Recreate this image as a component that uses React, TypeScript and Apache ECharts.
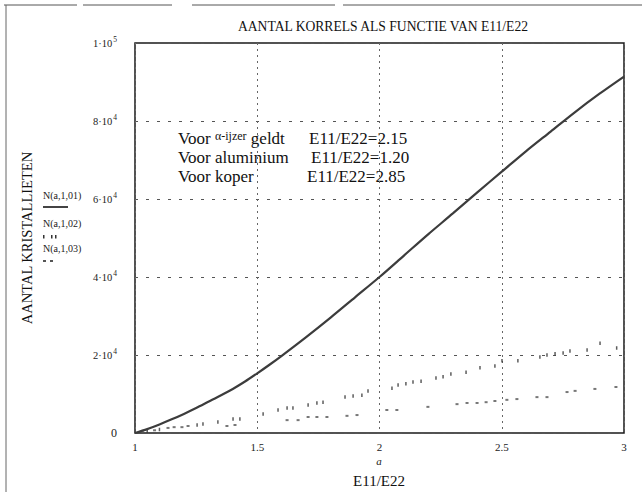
import React, { useEffect, useRef } from "react";
import * as echarts from "echarts";

// ---- data ----
const xMain = [1.0, 1.05, 1.1, 1.15, 1.2, 1.25, 1.3, 1.35, 1.4, 1.45, 1.5, 1.55, 1.6, 1.7, 1.8, 1.9, 2.0, 2.1, 2.2, 2.3, 2.4, 2.5, 2.6, 2.7, 2.8, 2.9, 3.0];
const yMain = [0, 1000, 2200, 3500, 4900, 6400, 8000, 9600, 11300, 13200, 15300, 17500, 19800, 24600, 29600, 34800, 40000, 45500, 51000, 56300, 61700, 67000, 72300, 77300, 82300, 87000, 91400];

const xA2 = [1.05, 1.1, 1.254, 1.278, 1.339, 1.401, 1.429, 1.524, 1.585, 1.622, 1.646, 1.708, 1.744, 1.769, 1.859, 1.892, 1.928, 1.953, 2.051, 2.076, 2.108, 2.137, 2.17, 2.231, 2.26, 2.292, 2.354, 2.411, 2.472, 2.501, 2.566, 2.656, 2.685, 2.718, 2.751, 2.779, 2.849, 2.902, 2.97];
const yA2 = [500, 900, 2050, 2300, 2800, 3600, 3600, 4900, 5900, 6400, 6400, 7200, 7700, 7900, 9200, 9500, 9700, 10800, 11500, 12300, 12600, 13100, 13300, 14100, 14400, 15100, 15600, 16700, 17200, 18500, 18500, 19500, 20000, 20300, 20500, 21000, 21300, 23000, 21800];

const xA3 = [1.03, 1.08, 1.135, 1.16, 1.192, 1.217, 1.376, 1.409, 1.622, 1.667, 1.708, 1.744, 1.785, 1.867, 1.908, 2.03, 2.071, 2.198, 2.317, 2.358, 2.399, 2.436, 2.472, 2.521, 2.562, 2.644, 2.685, 2.767, 2.8, 2.881, 2.967];
const yA3 = [200, 700, 1300, 1500, 1500, 1800, 1800, 2050, 3300, 3300, 4100, 4100, 4100, 4400, 4600, 5900, 5900, 6700, 7400, 7700, 7700, 7900, 8200, 8500, 8700, 9200, 9200, 10500, 10800, 11300, 11800];

const seriesNames = ["N(a,1,01)", "N(a,1,02)", "N(a,1,03)"];
const titleText = "AANTAL KORRELS ALS FUNCTIE VAN E11/E22";
const yName = "AANTAL KRISTALLIETEN";
const xName = "E11/E22";
const notes = [
  { left: "{n|Voor }{g|α-ijzer}{n| geldt}", right: "E11/E22=2.15" },
  { left: "{n|Voor aluminium}", right: "E11/E22=1.20" },
  { left: "{n|Voor koper}", right: "E11/E22=2.85" },
];

const SERIF = "'Liberation Serif', 'DejaVu Serif', 'Times New Roman', serif";

function yLabel(v: number): string {
  if (v === 0) return "0";
  const p = Math.floor(Math.log10(v) + 1e-9);
  const m = Math.round(v / Math.pow(10, p));
  return `{m|${m}·10}{s|${p}}`;
}

export default function App() {
  const ref = useRef<HTMLDivElement>(null);
  useEffect(() => {
    document.body.style.margin = "0";
    const chart = echarts.init(ref.current as HTMLDivElement, null, { renderer: "svg" });
    const noteY = [138, 157, 176];
    const noteRX = [309, 311, 307];
    const graphic: any[] = [
      // outer frame (scanned page border)
      { type: "line", shape: { x1: 4, y1: 5, x2: 77, y2: 5 }, style: { stroke: "#555", lineWidth: 1 } },
      { type: "line", shape: { x1: 83, y1: 5, x2: 172, y2: 5 }, style: { stroke: "#555", lineWidth: 1 } },
      { type: "line", shape: { x1: 192, y1: 5, x2: 335, y2: 5 }, style: { stroke: "#555", lineWidth: 1 } },
      { type: "line", shape: { x1: 343, y1: 5, x2: 642, y2: 5 }, style: { stroke: "#555", lineWidth: 1 } },
      { type: "line", shape: { x1: 6, y1: 5, x2: 6, y2: 492 }, style: { stroke: "#666", lineWidth: 1 } },
      // title
      {
        type: "text", x: 383, y: 26,
        style: { text: titleText, font: `13.6px ${SERIF}`, fill: "#111", align: "center", verticalAlign: "middle" },
      },
      // x axis labels
      {
        type: "text", x: 379, y: 461,
        style: { text: "a", font: `italic 11px ${SERIF}`, fill: "#222", align: "center", verticalAlign: "middle" },
      },
      {
        type: "text", x: 379, y: 481,
        style: { text: xName, font: `15px ${SERIF}`, fill: "#111", align: "center", verticalAlign: "middle" },
      },
    ];
    notes.forEach((n, i) => {
      graphic.push({
        type: "text", x: 178, y: noteY[i],
        style: {
          text: n.left, fill: "#111", verticalAlign: "middle", align: "left",
          rich: {
            n: { fontSize: 17, fontFamily: SERIF, fill: "#111" },
            g: { fontSize: 12, fontFamily: SERIF, fill: "#111", padding: [0, 0, 4, 0] },
          },
        },
      });
      graphic.push({
        type: "text", x: noteRX[i], y: noteY[i],
        style: { text: n.right, font: `17px ${SERIF}`, fill: "#111", verticalAlign: "middle", align: "left" },
      });
    });
    // legend (labels with samples below)
    const legY = [195, 223, 248];
    seriesNames.forEach((nm, i) => {
      graphic.push({
        type: "text", x: 43, y: legY[i],
        style: { text: nm, font: `10px ${SERIF}`, fill: "#222", verticalAlign: "middle", align: "left" },
      });
    });
    graphic.push({ type: "line", shape: { x1: 43, y1: 207, x2: 68, y2: 207 }, style: { stroke: "#444", lineWidth: 2 } });
    [43, 51, 55].forEach((x) => graphic.push({ type: "rect", shape: { x, y: 235, width: 1.5, height: 3.5 }, style: { fill: "#333" } }));
    [43, 50].forEach((x) => graphic.push({ type: "rect", shape: { x, y: 260, width: 3, height: 2 }, style: { fill: "#555" } }));

    const option: any = {
      animation: false,
      backgroundColor: "#fff",
      textStyle: { fontFamily: SERIF },
      grid: { left: 135, right: 19, top: 43, bottom: 70, show: true, borderColor: "#1a1a1a", borderWidth: 1.5, backgroundColor: "transparent" },
      xAxis: {
        type: "value", min: 1, max: 3, interval: 0.5,
        axisLine: { show: false }, axisTick: { show: false },
        axisLabel: { fontFamily: SERIF, fontSize: 11, color: "#222", margin: 8 },
        splitLine: { show: true, lineStyle: { color: "#666", type: [2, 4], width: 1 } },
      },
      yAxis: {
        type: "value", min: 0, max: 100000, interval: 20000,
        name: yName, nameLocation: "middle", nameGap: 101, nameRotate: 90,
        nameTextStyle: { fontFamily: SERIF, fontSize: 14.5, color: "#111" },
        axisLine: { show: false }, axisTick: { show: false },
        axisLabel: {
          margin: 18, formatter: yLabel, color: "#222",
          rich: {
            m: { fontFamily: SERIF, fontSize: 10.5, color: "#222" },
            s: { fontFamily: SERIF, fontSize: 7.5, color: "#222", padding: [0, 0, 7, 1] },
          },
        },
        splitLine: { show: true, lineStyle: { color: "#555", type: [3, 8], width: 1 } },
      },
      series: [
        {
          name: seriesNames[0], type: "line", smooth: 0.3, showSymbol: false,
          lineStyle: { color: "#3c3c3c", width: 2.2 },
          data: xMain.map((x, i) => [x, yMain[i]]),
        },
        {
          name: seriesNames[1], type: "scatter", symbol: "rect", symbolSize: [1.5, 3.5],
          itemStyle: { color: "#333" },
          data: xA2.map((x, i) => [x, yA2[i]]),
        },
        {
          name: seriesNames[2], type: "scatter", symbol: "rect", symbolSize: [3, 2],
          itemStyle: { color: "#555" },
          data: xA3.map((x, i) => [x, yA3[i]]),
        },
      ],
      graphic,
    };
    chart.setOption(option);
    return () => chart.dispose();
  }, []);
  return <div ref={ref} style={{ width: 643, height: 503 }} />;
}
